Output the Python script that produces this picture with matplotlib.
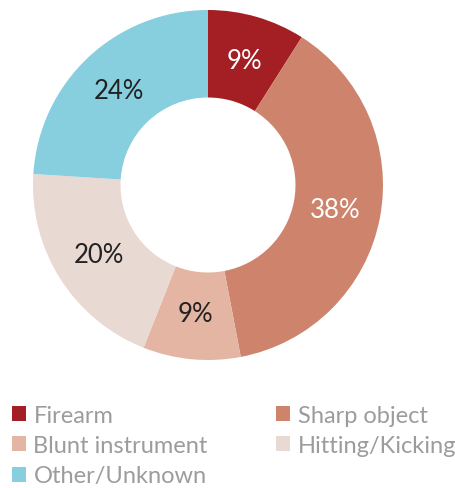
import matplotlib
matplotlib.use("Agg")
import matplotlib.pyplot as plt
from matplotlib.patches import Patch

categories = ["Firearm", "Sharp object", "Blunt instrument", "Hitting/Kicking", "Other/Unknown"]
shares = [9, 38, 9, 20, 24]
colors = ["#A31F24", "#CE846C", "#E4B5A2", "#E9D9D3", "#87CEDF"]
label_colors = ["white", "white", "#222222", "#222222", "#222222"]

plt.rcParams["font.family"] = ["Lato", "DejaVu Sans"]

fig = plt.figure(figsize=(4.56, 4.89), dpi=100)
ax = fig.add_axes([33 / 456, 128 / 489, 350 / 456, 350 / 489])

wedges, texts = ax.pie(shares, colors=colors, startangle=90, counterclock=False,
                       radius=1, wedgeprops=dict(width=0.5, linewidth=0),
                       labels=[f"{v}%" for v in shares], labeldistance=0.74)
for t, c in zip(texts, label_colors):
    t.set_color(c)
    t.set_fontsize(18.5)
    t.set_ha("center")
    t.set_va("center")
ax.set_xlim(-1, 1)
ax.set_ylim(-1, 1)
ax.set_aspect("equal")

# legend laid out row by row
handles = [Patch(facecolor=c) for c in colors]
order = [0, 2, 4, 1, 3]
leg = fig.legend([handles[i] for i in order], [categories[i] for i in order],
                 loc="upper left", bbox_to_anchor=(0.006, 0.19), ncol=2, frameon=False,
                 fontsize=17, handlelength=0.6, handleheight=0.6,
                 handletextpad=0.3, labelspacing=0.4, columnspacing=2.9, borderaxespad=0)
for t in leg.get_texts():
    t.set_color("#9c9c9c")

fig.savefig("out.png", dpi=100)
